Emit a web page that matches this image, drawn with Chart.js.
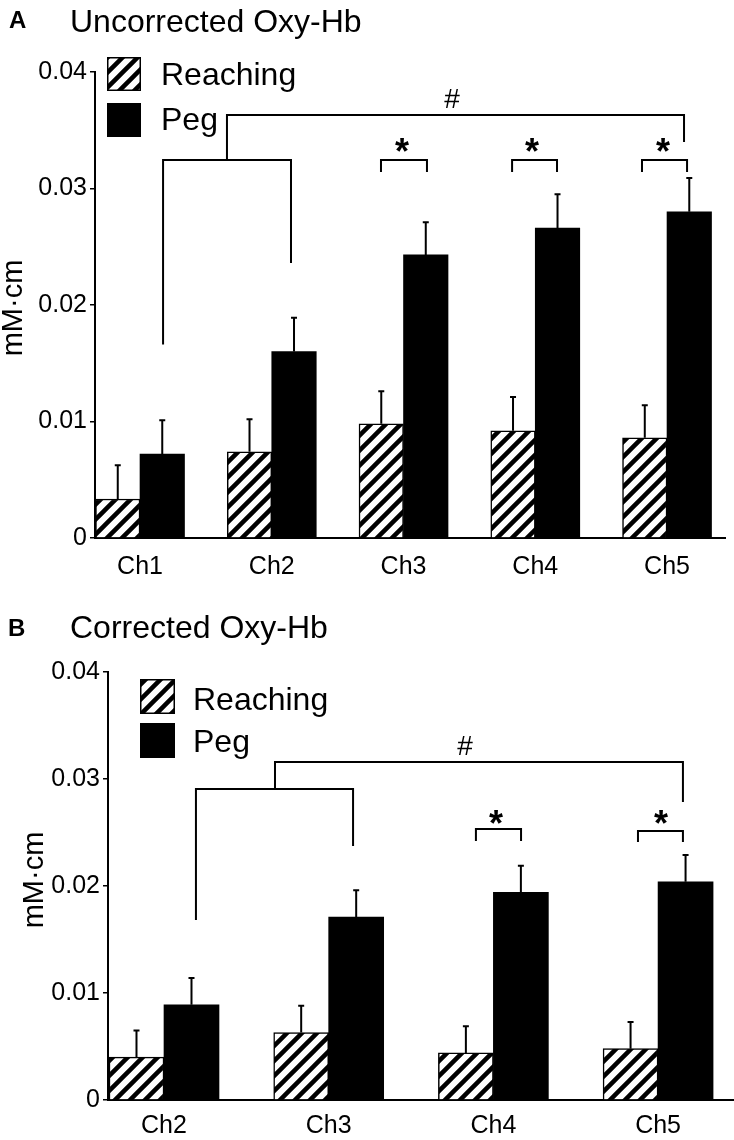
<!DOCTYPE html>
<html>
<head>
<meta charset="utf-8">
<script src="https://cdn.jsdelivr.net/npm/chart.js@4.4.1/dist/chart.umd.min.js"></script>
<style>
  html, body { margin: 0; padding: 0; background: #fff; }
  #wrap { position: relative; width: 734px; height: 1140px; }
  .panel { position: absolute; left: 0; width: 734px; }
  #panelA { top: 0; height: 585px; }
  #panelB { top: 585px; height: 555px; }
</style>
</head>
<body>
<div id="wrap">
  <div class="panel" id="panelA"><canvas id="chartA"></canvas></div>
  <div class="panel" id="panelB"><canvas id="chartB"></canvas></div>
</div>
<script>
const FONT = "'Liberation Sans', Arial, Helvetica, sans-serif";

// --- Datos panel A (Uncorrected) ---
const canalesA = ['Ch1', 'Ch2', 'Ch3', 'Ch4', 'Ch5'];
const reachingA = [0.00335, 0.0074, 0.0098, 0.0092, 0.0086];
const reachingErrA = [0.0029, 0.0028, 0.0028, 0.0029, 0.0028];
const pegA = [0.0072, 0.0160, 0.0243, 0.0266, 0.0280];
const pegErrA = [0.0029, 0.0029, 0.0028, 0.0029, 0.0029];

// --- Datos panel B (Corrected) ---
const canalesB = ['Ch2', 'Ch3', 'Ch4', 'Ch5'];
const reachingB = [0.0040, 0.0063, 0.0044, 0.0048];
const reachingErrB = [0.0025, 0.0025, 0.0025, 0.0025];
const pegB = [0.0089, 0.0171, 0.0194, 0.0204];
const pegErrB = [0.0025, 0.0025, 0.0025, 0.0025];

const yTicks = [0, 0.01, 0.02, 0.03, 0.04];
const series = ['Reaching', 'Peg'];

// --- Corchetes de significancia (x = índice de canal, y = mM·cm) ---
const corcheteA = {
    izq: [0.175, 0.0166], der: [1.146, 0.0236], barra: 0.03245,
    sube: 0.660, arriba: 0.0363, fin: [4.129, 0.0340], marca: [2.368, 0.0369]
};
const asteriscosA = [ // [x0, x1, yBarra, yPata, xMarca]
    [1.829, 2.178, 0.03245, 0.03142, 1.989],
    [2.824, 3.165, 0.03245, 0.03142, 2.975],
    [3.810, 4.152, 0.03245, 0.03142, 3.970]
];
const yAsteriscoA = 0.03373;

const corcheteB = {
    izq: [0.194, 0.01682], der: [1.148, 0.02374], barra: 0.02907,
    sube: 0.674, arriba: 0.03159, fin: [3.151, 0.02785], marca: [1.828, 0.03224]
};
const asteriscosB = [
    [1.894, 2.168, 0.02533, 0.02421, 2.016],
    [2.878, 3.151, 0.02514, 0.02411, 3.018]
];
const yAsteriscoB = 0.02645;

// --- Trama diagonal para "Reaching" ---
function crearTrama(ctxDestino) {
    const c = document.createElement('canvas');
    c.width = 15; c.height = 15;
    const g = c.getContext('2d');
    g.fillStyle = '#fff';
    g.fillRect(0, 0, 15, 15);
    g.strokeStyle = '#000';
    g.lineWidth = 4.5;
    g.beginPath();
    g.moveTo(-5, 20); g.lineTo(20, -5);
    g.moveTo(-5, 5); g.lineTo(5, -5);
    g.moveTo(10, 20); g.lineTo(20, 10);
    g.stroke();
    return ctxDestino.createPattern(c, 'repeat');
}

// --- Barras de error (solo hacia arriba) ---
const pluginErrores = {
    id: 'errores',
    afterDatasetsDraw(chart) {
        const ctx = chart.ctx;
        const y = chart.scales.y;
        ctx.save();
        ctx.strokeStyle = '#000';
        ctx.lineWidth = 2;
        chart.data.datasets.forEach((ds, di) => {
            chart.getDatasetMeta(di).data.forEach((bar, i) => {
                const top = y.getPixelForValue(ds.data[i].y + ds.errores[i]);
                ctx.beginPath();
                ctx.moveTo(bar.x, bar.y);
                ctx.lineTo(bar.x, top);
                ctx.moveTo(bar.x - 3, top);
                ctx.lineTo(bar.x + 3, top);
                ctx.stroke();
            });
        });
        ctx.restore();
    }
};

// --- Corchetes, títulos y leyenda ---
const pluginAnotaciones = {
    id: 'anotaciones',
    afterDraw(chart, args, o) {
        const ctx = chart.ctx;
        const sx = chart.scales.x, sy = chart.scales.y;
        const px = v => sx.getPixelForValue(v);
        const py = v => sy.getPixelForValue(v);
        ctx.save();
        ctx.strokeStyle = '#000';
        ctx.fillStyle = '#000';
        ctx.lineWidth = 2;

        // corchete grande "#"
        const c = o.corchete;
        ctx.beginPath();
        ctx.moveTo(px(c.izq[0]), py(c.izq[1]));
        ctx.lineTo(px(c.izq[0]), py(c.barra));
        ctx.lineTo(px(c.der[0]), py(c.barra));
        ctx.lineTo(px(c.der[0]), py(c.der[1]));
        ctx.moveTo(px(c.sube), py(c.barra));
        ctx.lineTo(px(c.sube), py(c.arriba));
        ctx.lineTo(px(c.fin[0]), py(c.arriba));
        ctx.lineTo(px(c.fin[0]), py(c.fin[1]));
        ctx.stroke();
        ctx.font = `28px ${FONT}`;
        ctx.textAlign = 'center';
        ctx.textBaseline = 'alphabetic';
        ctx.fillText('#', px(c.marca[0]), py(c.marca[1]));

        // corchetes "*"
        ctx.font = `bold 36px ${FONT}`;
        const m = ctx.measureText('*');
        const off = (m.actualBoundingBoxAscent - m.actualBoundingBoxDescent) / 2;
        o.asteriscos.forEach(a => {
            ctx.beginPath();
            ctx.moveTo(px(a[0]), py(a[3]));
            ctx.lineTo(px(a[0]), py(a[2]));
            ctx.lineTo(px(a[1]), py(a[2]));
            ctx.lineTo(px(a[1]), py(a[3]));
            ctx.stroke();
            ctx.fillText('*', px(a[4]), py(o.yAsterisco) + off);
        });

        // títulos
        ctx.textAlign = 'left';
        ctx.font = `bold 24px ${FONT}`;
        ctx.fillText(o.letra, o.letraPos[0], o.letraPos[1]);
        ctx.font = `32px ${FONT}`;
        ctx.fillText(o.titulo, o.tituloPos[0], o.tituloPos[1]);

        // título eje Y
        ctx.save();
        ctx.translate(o.ejeY[0], o.ejeY[1]);
        ctx.rotate(-Math.PI / 2);
        ctx.textAlign = 'center';
        ctx.font = `29px ${FONT}`;
        ctx.fillText('mM\u00B7cm', 0, 0);
        ctx.restore();

        // leyenda
        const L = o.leyenda;
        chart.data.datasets.forEach((ds, i) => {
            const bx = L.x, by = L.y[i];
            ctx.fillStyle = ds.backgroundColor;
            ctx.fillRect(bx, by, L.caja, L.caja);
            ctx.lineWidth = 1.5;
            ctx.strokeStyle = '#000';
            ctx.strokeRect(bx + 0.75, by + 0.75, L.caja - 1.5, L.caja - 1.5);
            ctx.fillStyle = '#000';
            ctx.font = `32px ${FONT}`;
            ctx.textAlign = 'left';
            ctx.fillText(ds.label, L.textoX, L.base[i]);
        });
        ctx.restore();
    }
};

function crearGrafica(id, cfg) {
    const ctx = document.getElementById(id).getContext('2d');
    const trama = crearTrama(ctx);
    return new Chart(ctx, {
        type: 'bar',
        data: {
            datasets: [
                {
                    label: series[0],
                    data: cfg.reaching.map((v, i) => ({ x: i, y: v })),
                    errores: cfg.reachingErr,
                    backgroundColor: trama,
                    borderColor: '#000',
                    borderWidth: 1.5,
                    barThickness: cfg.grosor
                },
                {
                    label: series[1],
                    data: cfg.peg.map((v, i) => ({ x: i, y: v })),
                    errores: cfg.pegErr,
                    backgroundColor: '#000',
                    borderColor: '#000',
                    borderWidth: 0,
                    barThickness: cfg.grosor
                }
            ]
        },
        options: {
            responsive: true,
            maintainAspectRatio: false,
            animation: false,
            layout: { padding: cfg.padding },
            plugins: {
                legend: { display: false },
                tooltip: { enabled: false },
                anotaciones: cfg.anot
            },
            scales: {
                x: {
                    type: 'linear',
                    offset: false,
                    min: cfg.xMin,
                    max: cfg.xMax,
                    grid: { display: false, drawTicks: false, offset: false },
                    border: { display: true, color: '#000', width: 2 },
                    afterBuildTicks: s => { s.ticks = cfg.canales.map((_, i) => ({ value: i })); },
                    ticks: {
                        callback: v => cfg.canales[v],
                        color: '#000',
                        font: { family: FONT, size: 25 },
                        padding: cfg.xPad,
                        autoSkip: false,
                        maxRotation: 0
                    },
                    afterFit: s => { s.height = cfg.xAlto; }
                },
                y: {
                    min: 0,
                    max: 0.04,
                    afterBuildTicks: s => { s.ticks = yTicks.map(v => ({ value: v })); },
                    ticks: {
                        callback: v => v === 0 ? '0' : v.toFixed(2),
                        color: '#000',
                        font: { family: FONT, size: 25 },
                        padding: 3
                    },
                    grid: { display: true, drawOnChartArea: false, drawTicks: true, tickLength: 5, color: '#000', lineWidth: 1.5 },
                    border: { display: true, color: '#000', width: 2 },
                    afterFit: s => { s.width = cfg.yAncho; }
                }
            }
        },
        plugins: [pluginErrores, pluginAnotaciones]
    });
}

crearGrafica('chartA', {
    canales: canalesA, reaching: reachingA, reachingErr: reachingErrA, peg: pegA, pegErr: pegErrA,
    xMin: -0.3416, xMax: 4.44, grosor: 44.5,
    padding: { top: 72, right: 9, left: 0, bottom: 0 },
    yAncho: 95, xAlto: 47, xPad: 14,
    anot: {
        corchete: corcheteA, asteriscos: asteriscosA, yAsterisco: yAsteriscoA,
        letra: 'A', letraPos: [9, 28], titulo: 'Uncorrected Oxy-Hb', tituloPos: [70, 32],
        ejeY: [22, 308],
        leyenda: { x: 107, y: [57, 103], caja: 34, textoX: 161, base: [85, 130] }
    }
});

crearGrafica('chartB', {
    canales: canalesB, reaching: reachingB, reachingErr: reachingErrB, peg: pegB, pegErr: pegErrB,
    xMin: -0.34, xMax: 3.455, grosor: 55,
    padding: { top: 87, right: 1, left: 0, bottom: 0 },
    yAncho: 108, xAlto: 40, xPad: 11,
    anot: {
        corchete: corcheteB, asteriscos: asteriscosB, yAsterisco: yAsteriscoB,
        letra: 'B', letraPos: [8, 51], titulo: 'Corrected Oxy-Hb', tituloPos: [70, 53],
        ejeY: [43, 295],
        leyenda: { x: 140, y: [94, 138], caja: 35, textoX: 193, base: [125, 167] }
    }
});
</script>
</body>
</html>
